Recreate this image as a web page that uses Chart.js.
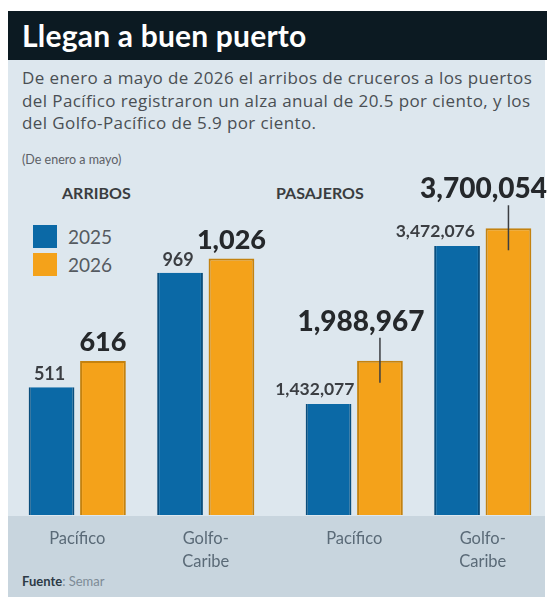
<!DOCTYPE html>
<html>
<head>
<meta charset="utf-8">
<script src="https://cdn.jsdelivr.net/npm/chart.js@4.4.1/dist/chart.umd.min.js"></script>
<style>
  body { margin: 0; background: #fff; width: 547px; height: 607px; overflow: hidden; position: relative; font-family: Lato, "Open Sans", sans-serif; }
  .panel { position: absolute; left: 8px; top: 11px; width: 537px; height: 586px; background: #dde7ee; }
  .band { position: absolute; left: 8px; top: 516px; width: 537px; height: 81px; background: #c8d5de; }
  .titlebar { position: absolute; left: 8px; top: 11px; width: 539px; height: 49px; background: #0c1a22; }
  .title { position: absolute; left: 22px; top: 15px; color: #fff; font-weight: 700; font-size: 30px; line-height: 40px; letter-spacing: 0.2px; }
  .subtitle { position: absolute; left: 22px; top: 67px; white-space: nowrap; color: #4a4f54; font-family: "Open Sans", sans-serif; font-size: 17px; line-height: 22.5px; letter-spacing: 0.4px; }
  .note { position: absolute; left: 22px; top: 152px; color: #5c6066; font-size: 12.5px; }
  .head { position: absolute; top: 183px; color: #3a3d40; font-weight: 700; font-size: 16px; }
  .legend { position: absolute; left: 33px; top: 225px; font-size: 19px; color: #555a60; }
  .legend div { height: 28px; line-height: 24px; }
  .legend span { display: inline-block; width: 24px; height: 23px; vertical-align: top; margin-right: 11px; }
  .source { position: absolute; left: 22px; top: 573px; font-size: 13px; color: #7d8b96; }
  .source b { color: #2c3a46; }
  canvas { position: absolute; }
</style>
</head>
<body>
<div class="panel"></div>
<div class="band"></div>
<div class="titlebar"></div>
<div class="title">Llegan a buen puerto</div>
<div class="subtitle">De enero a mayo de 2026 el arribos de cruceros a los puertos<br>del Pacífico registraron un alza anual de 20.5 por ciento, y los<br>del Golfo-Pacífico de 5.9 por ciento.</div>
<div class="note">(De enero a mayo)</div>
<div class="head" style="left:62px">ARRIBOS</div>
<div class="head" style="left:276px">PASAJEROS</div>
<div class="legend">
  <div><span style="background:#0b69a6"></span>2025</div>
  <div><span style="background:#f4a21a"></span>2026</div>
</div>
<div class="source"><b>Fuente</b>: Semar</div>

<div style="position:absolute;left:13px;top:140px;width:257px;height:457px"><canvas id="arribos"></canvas></div>
<div style="position:absolute;left:270px;top:140px;width:277px;height:457px"><canvas id="pasajeros"></canvas></div>

<script>
const categories = [['Pacífico'], ['Golfo-', 'Caribe']];
const years = ['2025', '2026'];
const arribos2025 = [511, 969];
const arribos2026 = [616, 1026];
const pasajeros2025 = [1432077, 3472076];
const pasajeros2026 = [1988967, 3700054];

const colors = ['#0b69a6', '#f4a21a'];
const edges = ['#0a4e7d', '#c4820f'];
const numberFormat = new Intl.NumberFormat('en-US');

// value labels above the bars
const valueLabels = {
  id: 'valueLabels',
  afterDatasetsDraw(chart, args, opts) {
    const ctx = chart.ctx;
    chart.data.datasets.forEach((dataset, di) => {
      const meta = chart.getDatasetMeta(di);
      meta.data.forEach((bar, i) => {
        const text = numberFormat.format(dataset.data[i]);
        const half = bar.width / 2;
        ctx.save();
        ctx.textBaseline = 'alphabetic';
        if (di === 0) {
          ctx.fillStyle = '#3b3e42';
          ctx.font = `700 ${opts.small}px Lato, sans-serif`;
          if (opts.leader) {
            ctx.textAlign = 'right';
            ctx.fillText(text, bar.x + half + (i === 0 ? 3 : -5), bar.y - 9);
          } else {
            ctx.textAlign = 'center';
            ctx.fillText(text, bar.x - 2, bar.y - 7);
          }
        } else {
          ctx.fillStyle = '#25282b';
          ctx.font = `900 ${opts.big}px Lato, sans-serif`;
          ctx.textAlign = 'center';
          if (opts.leader) {
            const w = ctx.measureText(text).width;
            const cx = Math.min(bar.x - 19, chart.width - w / 2);
            ctx.fillText(text, cx, bar.y - 30);
            ctx.strokeStyle = '#3b3e42';
            ctx.lineWidth = 1.5;
            ctx.beginPath();
            ctx.moveTo(bar.x, bar.y - 23);
            ctx.lineTo(bar.x, bar.y + 22);
            ctx.stroke();
          } else {
            ctx.fillText(text, bar.x, bar.y - 10);
          }
        }
        ctx.restore();
      });
    });
  }
};

function makeChart(id, first, second, max, padLeft, labelOpts) {
  return new Chart(document.getElementById(id), {
    type: 'bar',
    data: {
      labels: categories,
      datasets: [
        { label: years[0], data: first, backgroundColor: colors[0], borderColor: edges[0], borderWidth: { left: 2, right: 2, top: 0, bottom: 0 } },
        { label: years[1], data: second, backgroundColor: colors[1], borderColor: edges[1], borderWidth: { left: 2, right: 2, top: 2, bottom: 0 } }
      ]
    },
    options: {
      responsive: true,
      maintainAspectRatio: false,
      animation: false,
      categoryPercentage: 0.8,
      barPercentage: 0.89,
      layout: { padding: { top: 10, left: padLeft, right: 0, bottom: 0 } },
      plugins: {
        legend: { display: false },
        tooltip: { enabled: false },
        valueLabels: labelOpts
      },
      scales: {
        x: {
          grid: { display: false, drawTicks: false },
          border: { display: false },
          afterFit: (scale) => { scale.height = 82; },
          ticks: {
            color: '#5a6a77',
            padding: 12,
            font: { family: 'Lato', size: 16.5, lineHeight: 1.4 }
          }
        },
        y: { display: false, min: 0, max: max }
      }
    },
    plugins: [valueLabels]
  });
}

makeChart('arribos', arribos2025, arribos2026, 1460, 0, { small: 18, big: 27, leader: false });
makeChart('pasajeros', pasajeros2025, pasajeros2026, 4710000, 20, { small: 17.5, big: 28, leader: true });
</script>
</body>
</html>
